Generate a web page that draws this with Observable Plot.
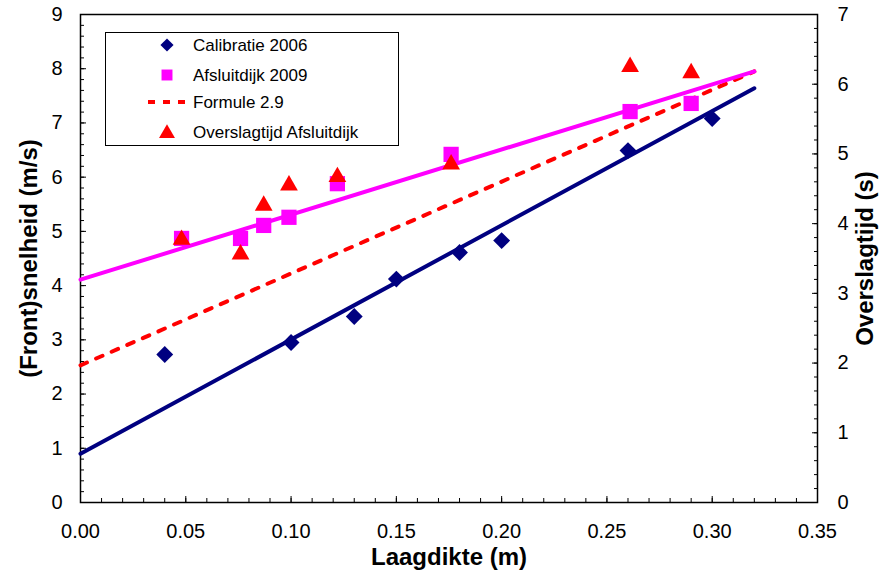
<!DOCTYPE html>
<html><head><meta charset="utf-8">
<script src="https://cdn.jsdelivr.net/npm/d3@7"></script>
<script src="https://cdn.jsdelivr.net/npm/@observablehq/plot@0.6"></script>
<style>
body{margin:0;background:#fff;font-family:"Liberation Sans",Arial,sans-serif;}
#wrap{position:relative;width:884px;height:575px;}
#legend{position:absolute;left:105px;top:32px;}
</style></head><body>
<div id="wrap"></div>
<script>
// Series names and colours
const seriesNames = ["Calibratie 2006", "Afsluitdijk 2009", "Formule 2.9", "Overslagtijd Afsluitdijk"];
const seriesColors = ["#000080", "#ff00ff", "#ff0000", "#ff0000"];

// Calibratie 2006 (left axis, m/s)
const calibX = [0.04, 0.10, 0.13, 0.15, 0.18, 0.20, 0.26, 0.30];
const calibY = [2.73, 2.95, 3.43, 4.12, 4.61, 4.83, 6.49, 7.08];

// Afsluitdijk 2009 (left axis, m/s)
const afsX = [0.048, 0.076, 0.087, 0.099, 0.122, 0.176, 0.261, 0.290];
const afsY = [4.87, 4.87, 5.11, 5.26, 5.88, 6.42, 7.21, 7.36];

// Overslagtijd Afsluitdijk (right axis, s)
const overTime = [3.77, 3.56, 4.26, 4.55, 4.67, 4.85, 6.25, 6.16];

// Trend lines
const fitX = [0, 0.32];
const calibFitY = [0.90, 7.64];
const afsFitY = [4.11, 7.95];
const formuleY = [2.53, 7.95];

// Axes
const xTicks = [0, 0.05, 0.10, 0.15, 0.20, 0.25, 0.30, 0.35];
const yTicks = [0, 1, 2, 3, 4, 5, 6, 7, 8, 9];
const rightTicks = [0, 1, 2, 3, 4, 5, 6, 7];
const xTitle = "Laagdikte (m)";
const yTitle = "(Front)snelheid (m/s)";
const y2Title = "Overslagtijd (s)";

const yMax = 9, y2Max = 7, k = yMax / y2Max;
const xMinor = d3.range(0, 36).map(i => i / 100);
const yMinor = d3.range(0, 46).map(i => i / 5);
const y2Minor = d3.range(0, 36).map(i => i / 5 * k);

const calib = calibX.map((x, i) => ({x, y: calibY[i]}));
const afs = afsX.map((x, i) => ({x, y: afsY[i]}));
const over = afsX.map((x, i) => ({x, y: overTime[i] * k}));
const calibFit = fitX.map((x, i) => ({x, y: calibFitY[i]}));
const afsFit = fitX.map((x, i) => ({x, y: afsFitY[i]}));
const formule = fitX.map((x, i) => ({x, y: formuleY[i]}));

const chart = Plot.plot({
  width: 884, height: 575,
  marginLeft: 80, marginRight: 67, marginTop: 14, marginBottom: 73,
  style: {fontFamily: "Liberation Sans, Arial, sans-serif", fontSize: "20px", color: "#000", background: "#fff"},
  x: {domain: [0, 0.35]},
  y: {domain: [0, yMax]},
  marks: [
    Plot.axisX(xMinor, {tickSize: 4, inset: 4, tickFormat: () => "", stroke: "#000", label: null}),
    Plot.axisX(xTicks, {tickSize: 6, inset: 6, tickPadding: 21, tickFormat: d3.format(".2f"), stroke: "#000", label: null}),
    Plot.axisY(yMinor, {tickSize: 4, inset: 4, tickFormat: () => "", stroke: "#000", label: null}),
    Plot.axisY(yTicks, {tickSize: 6, inset: 6, tickPadding: 18, tickFormat: d => d, stroke: "#000", label: null}),
    Plot.axisY(y2Minor, {anchor: "right", tickSize: 4, inset: 4, tickFormat: () => "", stroke: "#000", label: null}),
    Plot.axisY(rightTicks.map(v => v * k), {anchor: "right", tickSize: 6, inset: 6, tickPadding: 20, tickFormat: d => Math.round(d / k), stroke: "#000", label: null}),
    Plot.frame({stroke: "#000", strokeWidth: 1.5}),
    Plot.line(formule, {x: "x", y: "y", stroke: seriesColors[2], strokeWidth: 4, strokeDasharray: "7,10"}),
    Plot.line(calibFit, {x: "x", y: "y", stroke: seriesColors[0], strokeWidth: 4, strokeLinecap: "round"}),
    Plot.line(afsFit, {x: "x", y: "y", stroke: seriesColors[1], strokeWidth: 4, strokeLinecap: "round"}),
    Plot.dot(afs, {x: "x", y: "y", symbol: "square", r: 8.6, fill: seriesColors[1]}),
    Plot.dot(calib, {x: "x", y: "y", symbol: "diamond2", r: 7.6, fill: seriesColors[0]}),
    Plot.dot(over, {x: "x", y: "y", symbol: "triangle", r: 6.6, fill: seriesColors[3]}),
    Plot.text([xTitle], {frameAnchor: "bottom", lineAnchor: "middle", dy: 55, textAnchor: "middle", text: d => d, fontSize: 24, fontWeight: "bold", fill: "#000"}),
    Plot.text([yTitle], {frameAnchor: "left", dx: -51, textAnchor: "middle", rotate: -90, text: d => d, fontSize: 24, fontWeight: "bold", fill: "#000"}),
    Plot.text([y2Title], {frameAnchor: "right", dx: 48, textAnchor: "middle", rotate: -90, text: d => d, fontSize: 24, fontWeight: "bold", fill: "#000"})
  ]
});
document.getElementById("wrap").appendChild(chart);

// Legend
const lg = d3.select("#wrap").append("svg").attr("id", "legend")
  .attr("width", 294).attr("height", 114);
lg.append("rect").attr("x", 0.5).attr("y", 0.5).attr("width", 293).attr("height", 113)
  .attr("fill", "#fff").attr("stroke", "#000").attr("stroke-width", 1);
const rowsY = [13, 43, 70, 100];
const legendSymbols = [d3.symbolDiamond2, d3.symbolSquare, null, d3.symbolTriangle];
const legendSizes = [110, 120, 0, 110];
seriesNames.forEach((name, i) => {
  const g = lg.append("g").attr("transform", `translate(0,${rowsY[i]})`);
  if (legendSymbols[i]) {
    g.append("path").attr("transform", `translate(62,${i === 3 ? 1.5 : 0})`)
      .attr("d", d3.symbol(legendSymbols[i], legendSizes[i])()).attr("fill", seriesColors[i]);
  } else {
    g.append("line").attr("x1", 43).attr("x2", 83).attr("y1", 0).attr("y2", 0)
      .attr("stroke", seriesColors[i]).attr("stroke-width", 4).attr("stroke-dasharray", "7,8");
  }
  g.append("text").attr("x", 88).attr("y", 0).attr("dy", "0.35em")
    .attr("font-size", 17).attr("font-family", "Liberation Sans, Arial, sans-serif").attr("fill", "#000").text(name);
});
</script>
</body></html>
